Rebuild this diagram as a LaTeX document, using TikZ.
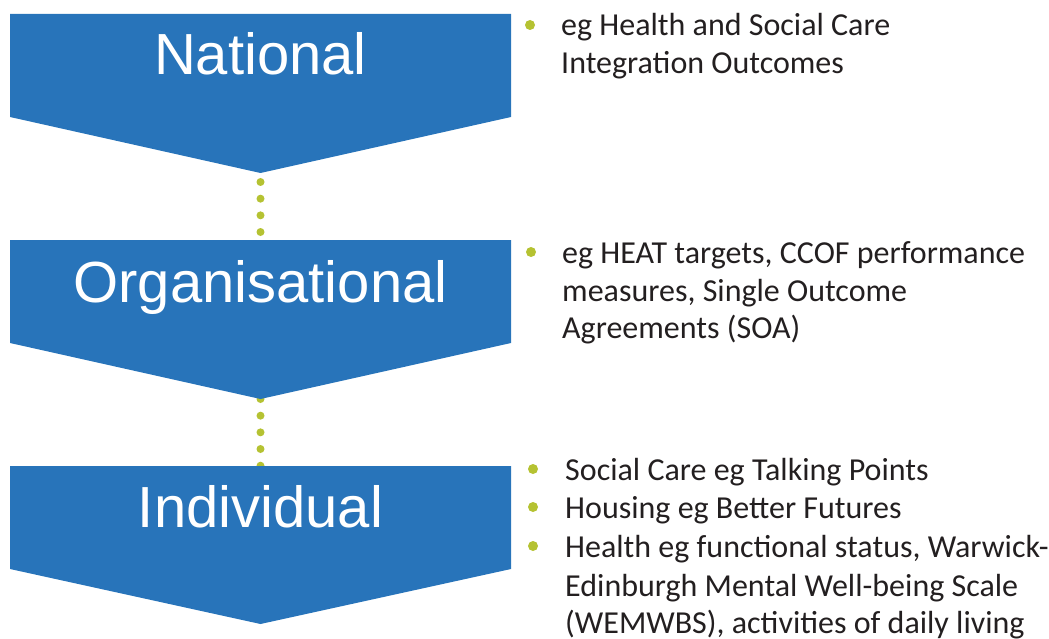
\documentclass[tikz,border=0pt]{standalone}
\usepackage{fontspec}
\setmainfont{Carlito}
\newfontfamily\labelfont{Liberation Sans}
\definecolor{levelblue}{HTML}{2874BA}
\definecolor{dotgreen}{HTML}{B5C232}
\definecolor{bodytext}{HTML}{231F20}
\begin{document}
\begin{tikzpicture}[x=1pt,y=-1pt,
  levelshape/.style={fill=levelblue,draw=none},
  levellabel/.style={anchor=base,inner sep=0pt,text=white,font=\labelfont\fontsize{58}{60}\selectfont},
  dotline/.style={draw=dotgreen,line width=8pt,line cap=round,dash pattern=on 0pt off 16.67pt},
  itemline/.style={anchor=base west,inner sep=0pt,text=bodytext,font=\fontsize{32}{38}\selectfont},
  bulletdot/.style={fill=dotgreen,draw=none}]
\useasboundingbox (0,0) rectangle (1049,639);

% anchor points of the three levels (top centre and lower tip)
\coordinate (nattop) at (260.5,14);   \coordinate (nattip) at (260.5,173);
\coordinate (orgtop) at (260.5,240);  \coordinate (orgtip) at (260.5,399);
\coordinate (indtop) at (260.5,466);  \coordinate (indtip) at (260.5,624);

% dotted links between the levels, behind the shapes
\draw[dotline,dash phase=7.67pt] (nattip) -- (orgtop);
\draw[dotline] (orgtip) -- (indtop);

% downward chevrons
\fill[levelshape] (10,14) -- (511,14) -- (511,117) -- (nattip) -- (10,117) -- cycle;
\fill[levelshape] (10,240) -- (511,240) -- (511,343) -- (orgtip) -- (10,343) -- cycle;
\fill[levelshape] (10,466) -- (511,466) -- (511,569) -- (indtip) -- (10,569) -- cycle;

\node[levellabel] (national) at (260.5,75) {National};
\node[levellabel] (organisational) at (260.5,302) {Organisational};
\node[levellabel] (individual) at (260.5,527) {Individual};

% national examples
\fill[bulletdot] (530,25) circle (5);
\node[itemline] (n1) at (561,36) {eg Health and Social Care};
\node[itemline] (n2) at (561,74) {Integration Outcomes};

% organisational examples
\fill[bulletdot] (531,252) circle (5);
\node[itemline] (o1) at (562,263) {eg HEAT targets, CCOF performance};
\node[itemline] (o2) at (562,301) {measures, Single Outcome};
\node[itemline] (o3) at (562,338) {Agreements (SOA)};

% individual examples
\fill[bulletdot] (533,469) circle (5);
\node[itemline] (i1) at (565,480) {Social Care eg Talking Points};
\fill[bulletdot] (533,507) circle (5);
\node[itemline] (i2) at (565,518) {Housing eg Better Futures};
\fill[bulletdot] (533,546) circle (5);
\node[itemline] (i3) at (565,557) {Health eg functional status, Warwick-};
\node[itemline] (i4) at (565,596) {Edinburgh Mental Well-being Scale};
\node[itemline] (i5) at (565,633) {(WEMWBS), activities of daily living};
\end{tikzpicture}
\end{document}
